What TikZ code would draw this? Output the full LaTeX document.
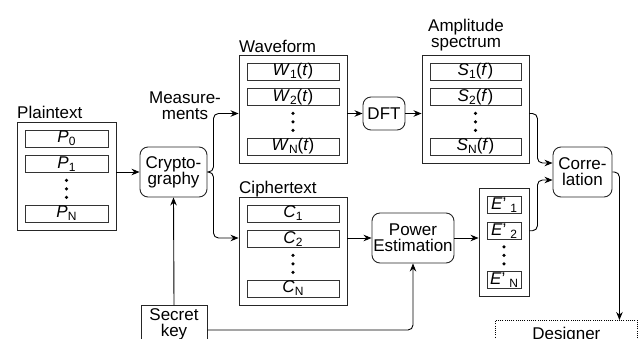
\documentclass[tikz,border=0pt]{standalone}
\usepackage{fontspec}
\setmainfont{Liberation Sans}
\usetikzlibrary{arrows.meta,positioning,calc}
\newcommand\lowidx[1]{\raisebox{-3pt}{\fontsize{12}{12}\selectfont #1}}
\newcommand\ivar[2]{\textit{#1}\lowidx{#2}}
\newcommand\eprime[1]{\textit{E}'\hspace{4pt}\lowidx{#1}}
\tikzset{
  panel/.style={draw=black!85, line width=0.9pt, minimum height=108, inner sep=0pt},
  row/.style={draw=black!80, line width=0.8pt, minimum height=17, inner sep=0pt},
  proc/.style={draw=black!85, line width=0.9pt, rounded corners=8pt, align=center, inner sep=0pt},
  lab/.style={inner sep=0pt, align=center},
  arr/.style={line width=0.9pt, rounded corners=5pt, -{Stealth[length=8pt,width=6.5pt]}},
}
\begin{document}
\begin{tikzpicture}[x=1pt, y=-1pt, font=\fontsize{17}{16}\selectfont]
\useasboundingbox (0,0) rectangle (642,338);
\clip (0,0) rectangle (642,338);
% data panels with their rows
\foreach \pn/\cx/\cy/\w/\ra/\rb/\rc in {
  plain/66.5/176/99/\ivar{P}{0}/\ivar{P}{1}/\ivar{P}{N},
  wave/293/109/108/\ivar{W}{1}(\textit{t})/\ivar{W}{2}(\textit{t})/\ivar{W}{N}(\textit{t}),
  ampl/475.5/109/107/\ivar{S}{1}(\textit{f})/\ivar{S}{2}(\textit{f})/\ivar{S}{N}(\textit{f}),
  ciph/293/251/108/\ivar{C}{1}/\ivar{C}{2}/\ivar{C}{N},
  est/504/242.5/50/\eprime{1}/\eprime{2}/\eprime{N}}{
\node[panel, minimum width=\w] (\pn) at (\cx,\cy) {};
\node[row, minimum width=\w-16, below=8pt of \pn.north] (\pn-1) {\ra};
\node[row, minimum width=\w-16, below=8pt of \pn-1] (\pn-2) {\rb};
\node[row, minimum width=\w-16, above=8pt of \pn.south] (\pn-3) {\rc};
\foreach \s in {-8.5,0,8.5}{
\fill ($(\pn-2.south)!.5!(\pn-3.north)$) ++(0,\s) circle (1.8);
}
}
\node[lab, anchor=base west] (plainlab) at (17,118) {Plaintext};
\node[lab, anchor=base west] (wavelab) at (239,52) {Waveform};
\node[lab, anchor=base west] (ciphlab) at (239,193) {Ciphertext};
\node[lab, anchor=south] (ampllab) at (466,51.6) {Amplitude\\spectrum};
\node[lab, anchor=south] (measlab) at (185,120) {Measure-\\ments};
% processing steps
\node[proc, minimum width=67, minimum height=50] (crypto) at (173.5,172) {Crypto-\\graphy};
\node[proc, minimum width=42, minimum height=33] (dft) at (384,113.5) {DFT};
\node[proc, minimum width=82, minimum height=50] (power) at (413,238) {Power\\Estimation};
\node[proc, minimum width=59, minimum height=50] (corr) at (582.5,172) {Corre-\\lation};
\node[draw=black!85, line width=0.9pt, align=center, anchor=north, minimum width=66, inner ysep=3pt] (key) at (174,305) {Secret\\key};
\node[draw, line width=0.8pt, dash pattern=on 1pt off 1.2pt, anchor=north west, minimum width=142, inner ysep=7pt] (designer) at (495,320) {Designer};
\coordinate (turn) at ([xshift=7pt]corr.east);
% connections
\draw[arr] (plain.east |- crypto) -- (crypto);
\draw[arr] (crypto.east) -- ++(6,0) |- (wave.west |- dft);
\draw[arr] (crypto.east) -- ++(6,0) |- (ciph.west |- power);
\draw[arr] (wave.east |- dft) -- (dft);
\draw[arr] (dft) -- (ampl.west |- dft);
\draw[arr] (ciph.east |- power) -- (power);
\draw[arr] (power) -- (est.west |- power);
\draw[arr] (ampl.east |- dft) -- ++(8,0) |- ([yshift=9pt]corr.west);
\draw[arr] (est.east |- est-2) -- ++(8,0) |- ([yshift=-8pt]corr.west);
\draw[arr] (key.north) -- (crypto.south);
\draw[arr] ([yshift=-25pt]key.north east) -| (power.south);
\draw[arr] (corr.east) -| (turn |- designer.north);
\end{tikzpicture}
\end{document}
